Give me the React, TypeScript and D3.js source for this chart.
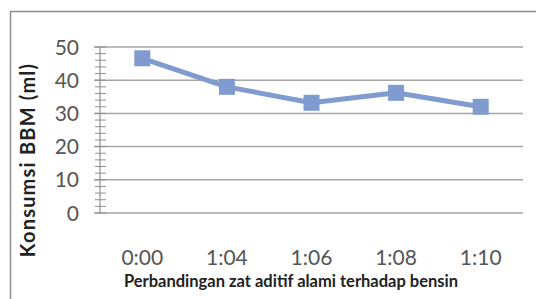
import * as d3 from "d3";
import React, { useEffect, useRef } from "react";

const categories = ["0:00", "1:04", "1:06", "1:08", "1:10"];
const konsumsi = [46.6, 38.0, 33.2, 36.2, 32.0];
const yTicks = [0, 10, 20, 30, 40, 50];
const minorTicks = d3.range(0, 51, 2);

function App() {
  const ref = useRef<SVGSVGElement>(null);

  const width = 536;
  const height = 299;
  const margin = { top: 47, right: 13, bottom: 86, left: 100 };

  useEffect(() => {
    const svg = d3.select(ref.current);
    svg.selectAll("*").remove();

    const font = "Lato, 'Noto Sans', sans-serif";

    // chart frame (only top and left visible)
    svg
      .append("path")
      .attr("d", `M10.5,${height} V11.5 H${width}`)
      .attr("fill", "none")
      .attr("stroke", "#8c8c8c")
      .attr("stroke-width", 1.5);

    const x = d3
      .scaleBand()
      .domain(categories)
      .range([margin.left, width - margin.right]);

    const y = d3
      .scaleLinear()
      .domain([0, 50])
      .range([height - margin.bottom, margin.top]);

    // gridlines
    svg
      .append("g")
      .selectAll("line")
      .data(yTicks)
      .enter()
      .append("line")
      .attr("x1", margin.left - 6)
      .attr("x2", width - margin.right)
      .attr("y1", (d) => y(d))
      .attr("y2", (d) => y(d))
      .attr("stroke", "#a6a6a6")
      .attr("stroke-width", 1.5);

    // minor ticks, crossing the axis
    svg
      .append("g")
      .selectAll("line")
      .data(minorTicks)
      .enter()
      .append("line")
      .attr("x1", margin.left - 5)
      .attr("x2", margin.left + 6)
      .attr("y1", (d) => y(d))
      .attr("y2", (d) => y(d))
      .attr("stroke", "#909090")
      .attr("stroke-width", 1);

    // y axis line
    svg
      .append("line")
      .attr("x1", margin.left)
      .attr("x2", margin.left)
      .attr("y1", y(50))
      .attr("y2", y(0))
      .attr("stroke", "#909090")
      .attr("stroke-width", 1.2);

    // y tick labels
    svg
      .append("g")
      .selectAll("text")
      .data(yTicks)
      .enter()
      .append("text")
      .attr("x", 79)
      .attr("y", (d) => y(d) + 7.5)
      .attr("text-anchor", "end")
      .style("font-family", font)
      .style("font-size", "21px")
      .attr("fill", "#555")
      .text((d) => d);

    // x tick labels
    svg
      .append("g")
      .selectAll("text")
      .data(categories)
      .enter()
      .append("text")
      .attr("x", (d) => (x(d) as number) + x.bandwidth() / 2)
      .attr("y", 265)
      .attr("text-anchor", "middle")
      .style("font-family", font)
      .style("font-size", "21px")
      .attr("fill", "#555")
      .text((d) => d);

    // line
    const line = d3
      .line<number>()
      .x((d, i) => (x(categories[i]) as number) + x.bandwidth() / 2)
      .y((d) => y(d));

    svg
      .append("path")
      .datum(konsumsi)
      .attr("d", line)
      .attr("fill", "none")
      .attr("stroke", "#7f9bd0")
      .attr("stroke-width", 5)
      .attr("stroke-linejoin", "round");

    // markers
    const size = 16;
    svg
      .append("g")
      .selectAll("rect")
      .data(konsumsi)
      .enter()
      .append("rect")
      .attr("x", (d, i) => (x(categories[i]) as number) + x.bandwidth() / 2 - size / 2)
      .attr("y", (d) => y(d) - size / 2)
      .attr("width", size)
      .attr("height", size)
      .attr("fill", "#7f9bd0");

    // axis titles
    svg
      .append("text")
      .attr("transform", `translate(35,160) rotate(-90)`)
      .attr("text-anchor", "middle")
      .style("font-family", font)
      .style("font-size", "20px")
      .style("font-weight", "bold")
      .style("letter-spacing", "1.2px")
      .attr("fill", "#222")
      .text("Konsumsi BBM (ml)");

    svg
      .append("text")
      .attr("x", 291)
      .attr("y", 287)
      .attr("text-anchor", "middle")
      .style("font-family", font)
      .style("font-size", "16.5px")
      .style("font-weight", "bold")
      .attr("fill", "#222")
      .text("Perbandingan zat aditif alami terhadap bensin");
  }, []);

  return (
    <svg
      ref={ref}
      width={width}
      height={height}
      style={{ position: "absolute", left: 0, top: 0, background: "#fff" }}
    />
  );
}

export default App;
